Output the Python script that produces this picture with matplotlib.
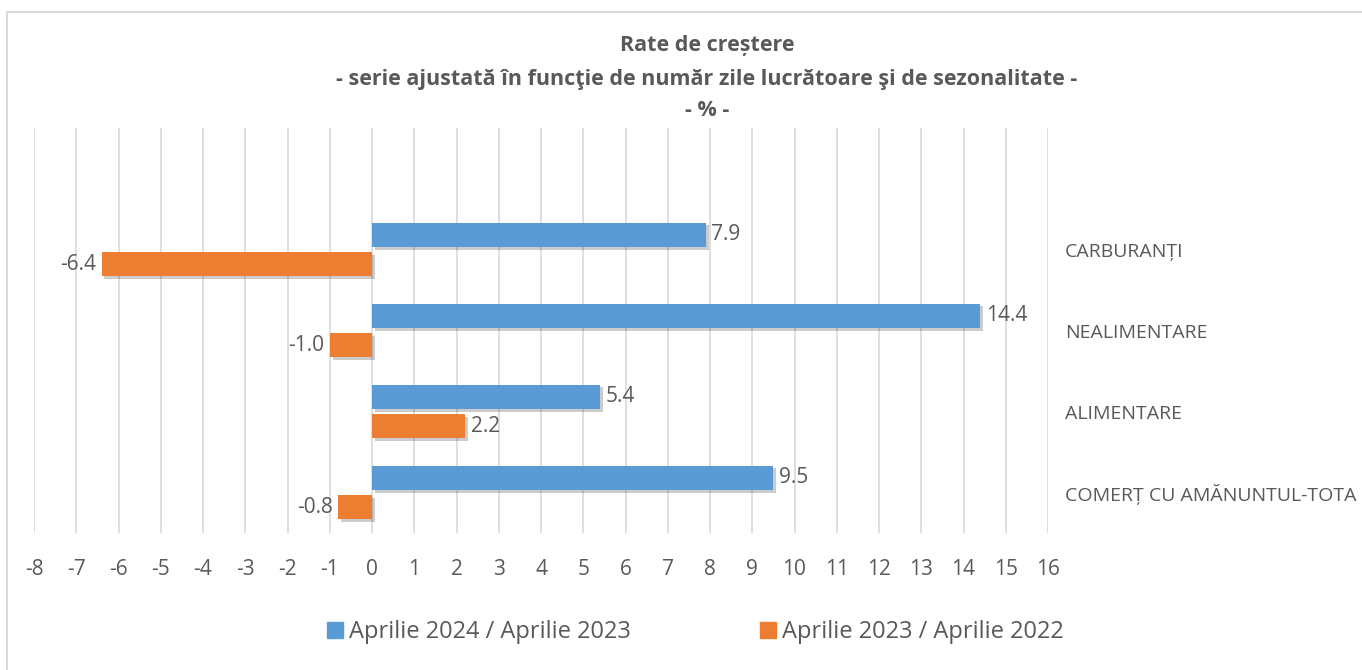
import numpy as np
import matplotlib
matplotlib.use('Agg')
import matplotlib.pyplot as plt
import matplotlib.patheffects as pe
from matplotlib.lines import Line2D

plt.rcParams['font.family'] = ['Open Sans', 'DejaVu Sans']

# data (bottom to top, top slot is an empty category like in the original)
categories = ['COMERȚ CU AMĂNUNTUL-TOTA', 'ALIMENTARE', 'NEALIMENTARE', 'CARBURANȚI', '']
apr24 = [9.5, 5.4, 14.4, 7.9, np.nan]
apr23 = [-0.8, 2.2, -1.0, -6.4, np.nan]
series_names = ['Aprilie 2024 / Aprilie 2023', 'Aprilie 2023 / Aprilie 2022']
xticks = list(range(-8, 17))

blue = '#5B9BD5'
orange = '#ED7D31'
txt = '#595959'
grid = '#D9D9D9'

W, H = 1362, 670
fig = plt.figure(figsize=(W/100, H/100), dpi=100)
ax = fig.add_axes([34/W, 1-533/H, (1048-34)/W, (533-128)/H])

y = np.arange(len(categories))
h = 0.30
off = 0.182
shadow = [pe.SimplePatchShadow(offset=(2, -2), shadow_rgbFace='k', alpha=0.2), pe.Normal()]

b1 = ax.barh(y + off, apr24, height=h, color=blue, zorder=3)
b2 = ax.barh(y - off, apr23, height=h, color=orange, zorder=3)
for b in list(b1) + list(b2):
    b.set_path_effects(shadow)

ax.bar_label(b1, labels=['' if np.isnan(v) else f'{v:.1f}' for v in apr24],
             padding=4, fontsize=15, color=txt)
ax.bar_label(b2, labels=['' if np.isnan(v) else f'{v:.1f}' for v in apr23],
             padding=4, fontsize=15, color=txt)

ax.set_xlim(-8, 16)
ax.set_ylim(-0.5, len(categories) - 0.5)
ax.set_xticks(xticks)
ax.set_xticklabels([str(t) for t in xticks], fontsize=15, color=txt)
ax.tick_params(axis='x', length=0, pad=19)
ax.set_yticks(y)
ax.set_yticklabels(categories, fontsize=14, color=txt)
ax.yaxis.tick_right()
ax.tick_params(axis='y', length=0, pad=12)
ax.grid(axis='x', color=grid, linewidth=1.2, zorder=0)
for s in ax.spines.values():
    s.set_visible(False)

# titles
fig.text(707/W, 1-45/H, 'Rate de creștere', ha='center', va='center',
         fontsize=15.5, fontweight='bold', color=txt)
fig.text(707/W, 1-80/H, '- serie ajustată în funcţie de număr zile lucrătoare şi de sezonalitate -',
         ha='center', va='center', fontsize=15.5, fontweight='bold', color=txt)
fig.text(707/W, 1-110/H, '- % -', ha='center', va='center',
         fontsize=15.5, fontweight='bold', color=txt)

# legend
handles = [Line2D([], [], marker='s', linestyle='', markersize=12, color=blue),
           Line2D([], [], marker='s', linestyle='', markersize=12, color=orange)]
fig.legend(handles, series_names, loc='center', bbox_to_anchor=(696/W, 1-632/H),
           ncol=2, frameon=False, fontsize=17, labelcolor=txt,
           handlelength=0.6, handletextpad=0.3, columnspacing=5.5)

# chart border
fig.add_artist(Line2D([6.5/W, 6.5/W, 1], [0, 1-11.5/H, 1-11.5/H],
                      transform=fig.transFigure, color='#D9D9D9', linewidth=1.5))

fig.savefig('out.png', dpi=100)
